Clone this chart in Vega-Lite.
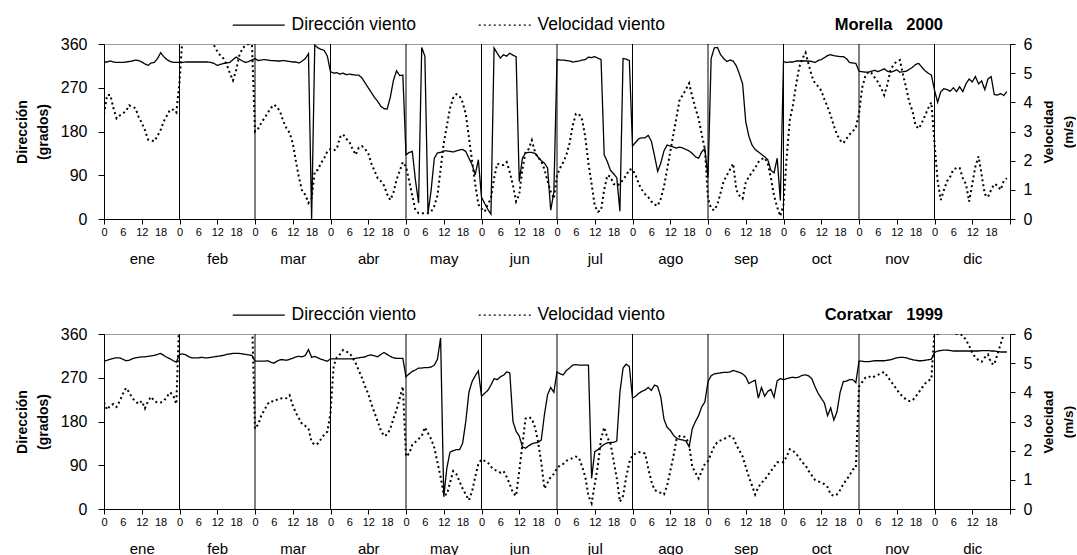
{
"$schema": "https://vega.github.io/schema/vega-lite/v6.json",
"background": "white",
"padding": {"left": 14, "top": 15, "right": 0, "bottom": 0},
"spacing": 38,
"config": {
  "font": "Liberation Sans",
  "view": {"stroke": "#9a9a9a", "strokeWidth": 1},
  "axis": {"grid": false, "domainColor": "black", "tickColor": "black", "labelColor": "black", "titleColor": "black", "labelFont": "Liberation Sans", "titleFont": "Liberation Sans", "domainWidth": 1, "tickWidth": 1}
},
"datasets": {
"meses": [
{"mes":"ene","s":0},{"mes":"feb","s":24},{"mes":"mar","s":48},{"mes":"abr","s":72},{"mes":"may","s":96},{"mes":"jun","s":120},
{"mes":"jul","s":144},{"mes":"ago","s":168},{"mes":"sep","s":192},{"mes":"oct","s":216},{"mes":"nov","s":240},{"mes":"dic","s":264}
],
"morella": [
{"i":0,"d":323,"v":3.6},{"i":1,"d":323,"v":4.25},{"i":2,"d":325,"v":4.25},{"i":3,"d":323,"v":3.8},{"i":4,"d":322,"v":3.45},{"i":5,"d":322,"v":3.55},
{"i":6,"d":322,"v":3.62},{"i":7,"d":323,"v":3.7},{"i":8,"d":324,"v":3.9},{"i":9,"d":325,"v":3.85},{"i":10,"d":327,"v":3.8},{"i":11,"d":326,"v":3.5},
{"i":12,"d":323,"v":3.3},{"i":13,"d":319,"v":3.05},{"i":14,"d":316,"v":2.72},{"i":15,"d":321,"v":2.7},{"i":16,"d":322,"v":2.66},{"i":17,"d":330,"v":2.85},
{"i":18,"d":342,"v":3.05},{"i":19,"d":334,"v":3.35},{"i":20,"d":328,"v":3.55},{"i":21,"d":324,"v":3.75},{"i":22,"d":322,"v":3.75},{"i":23,"d":322,"v":3.65},
{"i":24,"d":322,"v":4.7},{"i":25,"d":322,"v":6.3},{"i":26,"d":323,"v":6.5},{"i":27,"d":323,"v":6.6},{"i":28,"d":323,"v":6.6},{"i":29,"d":323,"v":6.6},
{"i":30,"d":323,"v":6.6},{"i":31,"d":323,"v":6.6},{"i":32,"d":323,"v":6.5},{"i":33,"d":323,"v":6.4},{"i":34,"d":322,"v":6.3},{"i":35,"d":320,"v":5.95},
{"i":36,"d":316,"v":5.75},{"i":37,"d":318,"v":5.6},{"i":38,"d":320,"v":5.5},{"i":39,"d":321,"v":5.3},{"i":40,"d":322,"v":5.0},{"i":41,"d":328,"v":4.75},
{"i":42,"d":333,"v":5.1},{"i":43,"d":329,"v":5.6},{"i":44,"d":325,"v":5.85},{"i":45,"d":322,"v":5.95},{"i":46,"d":324,"v":6.0},{"i":47,"d":327,"v":6.1},
{"i":48,"d":330,"v":3.0},{"i":49,"d":326,"v":3.1},{"i":50,"d":327,"v":3.29},{"i":51,"d":328,"v":3.46},{"i":52,"d":327,"v":3.63},{"i":53,"d":326,"v":3.8},
{"i":54,"d":326,"v":3.92},{"i":55,"d":325,"v":3.85},{"i":56,"d":325,"v":3.67},{"i":57,"d":326,"v":3.35},{"i":58,"d":325,"v":3.12},{"i":59,"d":324,"v":2.95},
{"i":60,"d":323,"v":2.6},{"i":61,"d":323,"v":1.98},{"i":62,"d":321,"v":1.41},{"i":63,"d":325,"v":0.95},{"i":64,"d":330,"v":0.83},{"i":65,"d":340,"v":0.55},
{"i":66,"d":0,"v":0.72},{"i":67,"d":358,"v":1.63},{"i":68,"d":352,"v":1.69},{"i":69,"d":349,"v":1.92},{"i":70,"d":347,"v":2.09},{"i":71,"d":335,"v":2.32},
{"i":72,"d":303,"v":2.4},{"i":73,"d":300,"v":2.35},{"i":74,"d":301,"v":2.4},{"i":75,"d":298,"v":2.8},{"i":76,"d":300,"v":2.9},{"i":77,"d":297,"v":2.75},
{"i":78,"d":298,"v":2.65},{"i":79,"d":297,"v":2.4},{"i":80,"d":296,"v":2.2},{"i":81,"d":296,"v":2.45},{"i":82,"d":290,"v":2.5},{"i":83,"d":280,"v":2.4},
{"i":84,"d":270,"v":2.25},{"i":85,"d":260,"v":1.9},{"i":86,"d":250,"v":1.65},{"i":87,"d":242,"v":1.4},{"i":88,"d":232,"v":1.3},{"i":89,"d":227,"v":1.15},
{"i":90,"d":226,"v":0.85},{"i":91,"d":250,"v":0.65},{"i":92,"d":285,"v":0.9},{"i":93,"d":305,"v":1.35},{"i":94,"d":295,"v":1.65},{"i":95,"d":296,"v":1.95},
{"i":96,"d":132,"v":1.8},{"i":97,"d":137,"v":1.3},{"i":98,"d":139,"v":0.8},{"i":99,"d":80,"v":0.3},{"i":100,"d":33,"v":0.2},{"i":101,"d":353,"v":0.2},
{"i":102,"d":335,"v":0.2},{"i":103,"d":12,"v":0.2},{"i":104,"d":60,"v":0.25},{"i":105,"d":125,"v":0.45},{"i":106,"d":136,"v":0.8},{"i":107,"d":137,"v":1.7},
{"i":108,"d":140,"v":2.6},{"i":109,"d":140,"v":3.2},{"i":110,"d":139,"v":3.8},{"i":111,"d":138,"v":4.15},{"i":112,"d":140,"v":4.28},{"i":113,"d":142,"v":4.22},
{"i":114,"d":143,"v":4.0},{"i":115,"d":139,"v":3.6},{"i":116,"d":125,"v":2.8},{"i":117,"d":112,"v":2.0},{"i":118,"d":91,"v":1.2},{"i":119,"d":122,"v":0.5},
{"i":120,"d":45,"v":0.35},{"i":121,"d":32,"v":0.25},{"i":122,"d":20,"v":0.5},{"i":123,"d":10,"v":0.7},{"i":124,"d":352,"v":1.4},{"i":125,"d":341,"v":1.9},
{"i":126,"d":331,"v":1.85},{"i":127,"d":338,"v":1.85},{"i":128,"d":335,"v":1.95},{"i":129,"d":341,"v":1.6},{"i":130,"d":337,"v":1.15},{"i":131,"d":334,"v":0.6},
{"i":132,"d":77,"v":0.85},{"i":133,"d":125,"v":1.7},{"i":134,"d":136,"v":2.3},{"i":135,"d":137,"v":2.4},{"i":136,"d":137,"v":2.7},{"i":137,"d":135,"v":2.3},
{"i":138,"d":127,"v":2.1},{"i":139,"d":120,"v":2.0},{"i":140,"d":115,"v":1.7},{"i":141,"d":105,"v":1.3},{"i":142,"d":18,"v":0.95},{"i":143,"d":55,"v":0.7},
{"i":144,"d":328,"v":1.5},{"i":145,"d":327,"v":1.75},{"i":146,"d":327,"v":1.95},{"i":147,"d":326,"v":2.2},{"i":148,"d":325,"v":2.6},{"i":149,"d":323,"v":3.2},
{"i":150,"d":324,"v":3.6},{"i":151,"d":325,"v":3.6},{"i":152,"d":327,"v":3.4},{"i":153,"d":328,"v":2.8},{"i":154,"d":333,"v":1.9},{"i":155,"d":332,"v":1.2},
{"i":156,"d":334,"v":0.45},{"i":157,"d":331,"v":0.25},{"i":158,"d":328,"v":0.3},{"i":159,"d":132,"v":1.0},{"i":160,"d":118,"v":1.5},{"i":161,"d":100,"v":1.45},
{"i":162,"d":93,"v":1.2},{"i":163,"d":85,"v":1.15},{"i":164,"d":16,"v":1.2},{"i":165,"d":330,"v":1.35},{"i":166,"d":329,"v":1.5},{"i":167,"d":326,"v":1.7},
{"i":168,"d":150,"v":1.7},{"i":169,"d":158,"v":1.5},{"i":170,"d":165,"v":1.2},{"i":171,"d":167,"v":1.0},{"i":172,"d":167,"v":0.85},{"i":173,"d":172,"v":0.75},
{"i":174,"d":160,"v":0.6},{"i":175,"d":130,"v":0.5},{"i":176,"d":98,"v":0.45},{"i":177,"d":115,"v":0.7},{"i":178,"d":140,"v":1.1},{"i":179,"d":152,"v":1.7},
{"i":180,"d":150,"v":2.3},{"i":181,"d":148,"v":2.9},{"i":182,"d":146,"v":3.5},{"i":183,"d":148,"v":4.1},{"i":184,"d":146,"v":4.25},{"i":185,"d":143,"v":4.45},
{"i":186,"d":140,"v":4.65},{"i":187,"d":135,"v":4.2},{"i":188,"d":128,"v":3.8},{"i":189,"d":125,"v":3.45},{"i":190,"d":138,"v":2.9},{"i":191,"d":145,"v":2.4},
{"i":192,"d":85,"v":0.7},{"i":193,"d":330,"v":0.35},{"i":194,"d":352,"v":0.3},{"i":195,"d":353,"v":0.5},{"i":196,"d":338,"v":0.9},{"i":197,"d":330,"v":1.3},
{"i":198,"d":324,"v":1.5},{"i":199,"d":327,"v":1.7},{"i":200,"d":325,"v":1.9},{"i":201,"d":315,"v":1.0},{"i":202,"d":298,"v":0.8},{"i":203,"d":278,"v":0.7},
{"i":204,"d":200,"v":1.25},{"i":205,"d":170,"v":1.45},{"i":206,"d":152,"v":1.6},{"i":207,"d":143,"v":1.75},{"i":208,"d":138,"v":1.95},{"i":209,"d":133,"v":2.05},
{"i":210,"d":128,"v":2.1},{"i":211,"d":122,"v":1.9},{"i":212,"d":100,"v":1.4},{"i":213,"d":95,"v":0.8},{"i":214,"d":125,"v":0.4},{"i":215,"d":38,"v":0.1},
{"i":216,"d":324,"v":0.5},{"i":217,"d":322,"v":2.1},{"i":218,"d":323,"v":3.4},{"i":219,"d":323,"v":3.9},{"i":220,"d":325,"v":4.6},{"i":221,"d":325,"v":5.2},
{"i":222,"d":325,"v":5.5},{"i":223,"d":325,"v":5.7},{"i":224,"d":325,"v":5.3},{"i":225,"d":324,"v":4.9},{"i":226,"d":322,"v":4.65},{"i":227,"d":326,"v":4.55},
{"i":228,"d":328,"v":4.4},{"i":229,"d":332,"v":4.1},{"i":230,"d":336,"v":3.85},{"i":231,"d":338,"v":3.55},{"i":232,"d":336,"v":3.2},{"i":233,"d":335,"v":2.9},
{"i":234,"d":334,"v":2.7},{"i":235,"d":334,"v":2.6},{"i":236,"d":330,"v":2.75},{"i":237,"d":322,"v":2.9},{"i":238,"d":321,"v":3.0},{"i":239,"d":320,"v":3.15},
{"i":240,"d":304,"v":3.6},{"i":241,"d":303,"v":4.5},{"i":242,"d":302,"v":4.9},{"i":243,"d":302,"v":5.05},{"i":244,"d":304,"v":5.0},{"i":245,"d":306,"v":4.85},
{"i":246,"d":303,"v":4.7},{"i":247,"d":306,"v":4.5},{"i":248,"d":309,"v":4.25},{"i":249,"d":304,"v":4.6},{"i":250,"d":302,"v":5.1},{"i":251,"d":304,"v":5.3},
{"i":252,"d":307,"v":5.4},{"i":253,"d":302,"v":5.45},{"i":254,"d":303,"v":4.95},{"i":255,"d":304,"v":4.5},{"i":256,"d":308,"v":4.0},{"i":257,"d":312,"v":3.7},
{"i":258,"d":318,"v":3.2},{"i":259,"d":320,"v":3.1},{"i":260,"d":312,"v":3.3},{"i":261,"d":305,"v":3.55},{"i":262,"d":300,"v":3.8},{"i":263,"d":296,"v":4.0},
{"i":264,"d":265,"v":2.6},{"i":265,"d":240,"v":1.3},{"i":266,"d":262,"v":0.65},{"i":267,"d":268,"v":1.0},{"i":268,"d":266,"v":1.3},{"i":269,"d":263,"v":1.45},
{"i":270,"d":270,"v":1.7},{"i":271,"d":262,"v":1.75},{"i":272,"d":272,"v":1.75},{"i":273,"d":262,"v":1.4},{"i":274,"d":278,"v":1.2},{"i":275,"d":288,"v":0.6},
{"i":276,"d":282,"v":1.2},{"i":277,"d":293,"v":1.8},{"i":278,"d":278,"v":2.15},{"i":279,"d":284,"v":1.5},{"i":280,"d":266,"v":0.85},{"i":281,"d":288,"v":0.75},
{"i":282,"d":293,"v":1.0},{"i":283,"d":256,"v":1.2},{"i":284,"d":255,"v":1.15},{"i":285,"d":258,"v":1.0},{"i":286,"d":254,"v":1.3},{"i":287,"d":262,"v":1.4}
],
"coratxar": [
{"i":0,"d":304,"v":3.65},{"i":1,"d":306,"v":3.4},{"i":2,"d":308,"v":3.55},{"i":3,"d":310,"v":3.6},{"i":4,"d":311,"v":3.5},{"i":5,"d":311,"v":3.7},
{"i":6,"d":308,"v":3.95},{"i":7,"d":305,"v":4.15},{"i":8,"d":306,"v":4.0},{"i":9,"d":309,"v":3.8},{"i":10,"d":311,"v":3.7},{"i":11,"d":312,"v":3.6},
{"i":12,"d":313,"v":3.7},{"i":13,"d":313,"v":3.45},{"i":14,"d":314,"v":3.7},{"i":15,"d":315,"v":3.85},{"i":16,"d":316,"v":3.7},{"i":17,"d":318,"v":3.65},
{"i":18,"d":320,"v":3.65},{"i":19,"d":316,"v":3.7},{"i":20,"d":312,"v":3.85},{"i":21,"d":309,"v":4.0},{"i":22,"d":305,"v":3.9},{"i":23,"d":302,"v":3.6},
{"i":24,"d":318,"v":6.8},{"i":25,"d":319,"v":6.8},{"i":26,"d":317,"v":6.8},{"i":27,"d":313,"v":6.8},{"i":28,"d":311,"v":6.8},{"i":29,"d":311,"v":6.8},
{"i":30,"d":311,"v":6.8},{"i":31,"d":312,"v":6.8},{"i":32,"d":311,"v":6.8},{"i":33,"d":311,"v":6.8},{"i":34,"d":312,"v":6.8},{"i":35,"d":313,"v":6.8},
{"i":36,"d":314,"v":6.8},{"i":37,"d":315,"v":6.8},{"i":38,"d":316,"v":6.8},{"i":39,"d":318,"v":6.8},{"i":40,"d":319,"v":6.8},{"i":41,"d":320,"v":6.8},
{"i":42,"d":320,"v":6.8},{"i":43,"d":320,"v":6.8},{"i":44,"d":319,"v":6.8},{"i":45,"d":318,"v":6.8},{"i":46,"d":317,"v":6.8},{"i":47,"d":316,"v":6.8},
{"i":48,"d":304,"v":2.75},{"i":49,"d":304,"v":2.9},{"i":50,"d":304,"v":3.2},{"i":51,"d":304,"v":3.4},{"i":52,"d":305,"v":3.6},{"i":53,"d":302,"v":3.7},
{"i":54,"d":300,"v":3.68},{"i":55,"d":304,"v":3.75},{"i":56,"d":307,"v":3.8},{"i":57,"d":307,"v":3.78},{"i":58,"d":306,"v":3.8},{"i":59,"d":308,"v":3.9},
{"i":60,"d":310,"v":3.55},{"i":61,"d":313,"v":3.3},{"i":62,"d":314,"v":3.1},{"i":63,"d":313,"v":2.9},{"i":64,"d":316,"v":2.85},{"i":65,"d":328,"v":2.75},
{"i":66,"d":312,"v":2.3},{"i":67,"d":314,"v":2.2},{"i":68,"d":311,"v":2.25},{"i":69,"d":308,"v":2.4},{"i":70,"d":306,"v":2.55},{"i":71,"d":304,"v":2.65},
{"i":72,"d":309,"v":3.3},{"i":73,"d":309,"v":4.9},{"i":74,"d":309,"v":5.2},{"i":75,"d":309,"v":5.3},{"i":76,"d":309,"v":5.45},{"i":77,"d":309,"v":5.4},
{"i":78,"d":309,"v":5.35},{"i":79,"d":309,"v":5.2},{"i":80,"d":310,"v":5.0},{"i":81,"d":311,"v":4.75},{"i":82,"d":312,"v":4.5},{"i":83,"d":313,"v":4.2},
{"i":84,"d":316,"v":3.95},{"i":85,"d":317,"v":3.6},{"i":86,"d":315,"v":3.3},{"i":87,"d":313,"v":3.0},{"i":88,"d":318,"v":2.7},{"i":89,"d":322,"v":2.5},
{"i":90,"d":318,"v":2.55},{"i":91,"d":314,"v":2.75},{"i":92,"d":311,"v":3.1},{"i":93,"d":310,"v":3.4},{"i":94,"d":310,"v":3.8},{"i":95,"d":310,"v":4.2},
{"i":96,"d":272,"v":1.8},{"i":97,"d":278,"v":1.9},{"i":98,"d":283,"v":2.2},{"i":99,"d":286,"v":2.3},{"i":100,"d":290,"v":2.4},{"i":101,"d":290,"v":2.5},
{"i":102,"d":291,"v":2.8},{"i":103,"d":291,"v":2.6},{"i":104,"d":292,"v":2.4},{"i":105,"d":296,"v":2.1},{"i":106,"d":308,"v":1.6},{"i":107,"d":352,"v":1.1},
{"i":108,"d":25,"v":0.5},{"i":109,"d":85,"v":0.5},{"i":110,"d":117,"v":0.9},{"i":111,"d":120,"v":1.3},{"i":112,"d":122,"v":1.2},{"i":113,"d":122,"v":0.95},
{"i":114,"d":135,"v":0.7},{"i":115,"d":180,"v":0.5},{"i":116,"d":240,"v":0.3},{"i":117,"d":262,"v":0.6},{"i":118,"d":274,"v":1.1},{"i":119,"d":284,"v":1.55},
{"i":120,"d":232,"v":1.7},{"i":121,"d":238,"v":1.65},{"i":122,"d":244,"v":1.6},{"i":123,"d":255,"v":1.45},{"i":124,"d":268,"v":1.35},{"i":125,"d":266,"v":1.3},
{"i":126,"d":272,"v":1.25},{"i":127,"d":275,"v":1.3},{"i":128,"d":282,"v":1.1},{"i":129,"d":280,"v":0.85},{"i":130,"d":180,"v":0.55},{"i":131,"d":160,"v":0.45},
{"i":132,"d":150,"v":1.3},{"i":133,"d":128,"v":2.2},{"i":134,"d":125,"v":3.1},{"i":135,"d":130,"v":3.15},{"i":136,"d":134,"v":3.1},{"i":137,"d":136,"v":2.8},
{"i":138,"d":137,"v":2.3},{"i":139,"d":142,"v":1.6},{"i":140,"d":194,"v":0.7},{"i":141,"d":235,"v":0.9},{"i":142,"d":250,"v":1.1},{"i":143,"d":240,"v":1.2},
{"i":144,"d":282,"v":1.4},{"i":145,"d":278,"v":1.5},{"i":146,"d":276,"v":1.55},{"i":147,"d":285,"v":1.65},{"i":148,"d":290,"v":1.7},{"i":149,"d":296,"v":1.75},
{"i":150,"d":297,"v":1.8},{"i":151,"d":296,"v":1.75},{"i":152,"d":296,"v":1.45},{"i":153,"d":296,"v":1.1},{"i":154,"d":296,"v":0.45},{"i":155,"d":63,"v":0.2},
{"i":156,"d":118,"v":0.85},{"i":157,"d":122,"v":1.5},{"i":158,"d":128,"v":2.4},{"i":159,"d":133,"v":2.8},{"i":160,"d":136,"v":2.45},{"i":161,"d":137,"v":2.25},
{"i":162,"d":137,"v":1.65},{"i":163,"d":140,"v":1.05},{"i":164,"d":240,"v":0.25},{"i":165,"d":290,"v":0.45},{"i":166,"d":298,"v":1.1},{"i":167,"d":293,"v":1.6},
{"i":168,"d":228,"v":1.85},{"i":169,"d":232,"v":1.9},{"i":170,"d":238,"v":1.95},{"i":171,"d":242,"v":1.95},{"i":172,"d":245,"v":1.9},{"i":173,"d":250,"v":1.4},
{"i":174,"d":244,"v":0.95},{"i":175,"d":255,"v":0.65},{"i":176,"d":252,"v":0.6},{"i":177,"d":230,"v":0.55},{"i":178,"d":185,"v":0.5},{"i":179,"d":168,"v":0.8},
{"i":180,"d":162,"v":1.3},{"i":181,"d":152,"v":1.8},{"i":182,"d":146,"v":2.4},{"i":183,"d":143,"v":2.5},{"i":184,"d":142,"v":2.5},{"i":185,"d":140,"v":2.45},
{"i":186,"d":128,"v":2.2},{"i":187,"d":165,"v":1.45},{"i":188,"d":180,"v":1.25},{"i":189,"d":192,"v":1.05},{"i":190,"d":210,"v":1.3},{"i":191,"d":220,"v":1.55},
{"i":192,"d":262,"v":1.65},{"i":193,"d":274,"v":1.9},{"i":194,"d":278,"v":2.15},{"i":195,"d":279,"v":2.3},{"i":196,"d":280,"v":2.35},{"i":197,"d":281,"v":2.4},
{"i":198,"d":281,"v":2.45},{"i":199,"d":282,"v":2.5},{"i":200,"d":285,"v":2.45},{"i":201,"d":283,"v":2.2},{"i":202,"d":281,"v":2.0},{"i":203,"d":278,"v":1.8},
{"i":204,"d":272,"v":1.45},{"i":205,"d":258,"v":1.1},{"i":206,"d":262,"v":0.8},{"i":207,"d":265,"v":0.5},{"i":208,"d":228,"v":0.75},{"i":209,"d":250,"v":0.9},
{"i":210,"d":232,"v":1.0},{"i":211,"d":242,"v":1.15},{"i":212,"d":246,"v":1.3},{"i":213,"d":230,"v":1.45},{"i":214,"d":264,"v":1.6},{"i":215,"d":268,"v":1.6},
{"i":216,"d":266,"v":1.6},{"i":217,"d":268,"v":1.8},{"i":218,"d":270,"v":2.05},{"i":219,"d":271,"v":2.0},{"i":220,"d":270,"v":1.9},{"i":221,"d":272,"v":1.75},
{"i":222,"d":275,"v":1.6},{"i":223,"d":276,"v":1.5},{"i":224,"d":274,"v":1.3},{"i":225,"d":268,"v":1.15},{"i":226,"d":252,"v":1.0},{"i":227,"d":238,"v":0.95},
{"i":228,"d":228,"v":0.9},{"i":229,"d":218,"v":0.85},{"i":230,"d":192,"v":0.75},{"i":231,"d":208,"v":0.5},{"i":232,"d":183,"v":0.45},{"i":233,"d":200,"v":0.5},
{"i":234,"d":240,"v":0.65},{"i":235,"d":262,"v":0.85},{"i":236,"d":263,"v":1.0},{"i":237,"d":266,"v":1.15},{"i":238,"d":266,"v":1.35},{"i":239,"d":260,"v":1.4},
{"i":240,"d":304,"v":4.2},{"i":241,"d":304,"v":4.35},{"i":242,"d":303,"v":4.5},{"i":243,"d":303,"v":4.55},{"i":244,"d":304,"v":4.5},{"i":245,"d":305,"v":4.55},
{"i":246,"d":305,"v":4.6},{"i":247,"d":305,"v":4.65},{"i":248,"d":305,"v":4.7},{"i":249,"d":306,"v":4.55},{"i":250,"d":307,"v":4.4},{"i":251,"d":309,"v":4.25},
{"i":252,"d":311,"v":4.1},{"i":253,"d":312,"v":3.95},{"i":254,"d":312,"v":3.85},{"i":255,"d":311,"v":3.75},{"i":256,"d":309,"v":3.7},{"i":257,"d":307,"v":3.72},
{"i":258,"d":306,"v":3.85},{"i":259,"d":305,"v":4.0},{"i":260,"d":305,"v":4.15},{"i":261,"d":306,"v":4.3},{"i":262,"d":307,"v":4.4},{"i":263,"d":308,"v":4.45},
{"i":264,"d":322,"v":6.1},{"i":265,"d":325,"v":6.0},{"i":266,"d":326,"v":6.05},{"i":267,"d":327,"v":6.1},{"i":268,"d":327,"v":6.1},{"i":269,"d":326,"v":6.1},
{"i":270,"d":325,"v":6.05},{"i":271,"d":325,"v":6.0},{"i":272,"d":325,"v":6.0},{"i":273,"d":325,"v":5.95},{"i":274,"d":325,"v":5.8},{"i":275,"d":325,"v":5.6},
{"i":276,"d":325,"v":5.35},{"i":277,"d":325,"v":5.2},{"i":278,"d":325,"v":5.1},{"i":279,"d":326,"v":5.05},{"i":280,"d":326,"v":5.2},{"i":281,"d":326,"v":5.3},
{"i":282,"d":325,"v":5.0},{"i":283,"d":325,"v":4.95},{"i":284,"d":324,"v":5.3},{"i":285,"d":323,"v":5.65},{"i":286,"d":323,"v":6.0},{"i":287,"d":323,"v":6.2}
]
},
"vconcat": [
{
  "width": 906, "height": 175,
  "title": {"text": "Morella\u00a0\u00a0 2000", "anchor": "end", "frame": "group", "dx": -67, "offset": -17.5, "fontSize": 16.5, "fontWeight": "bold", "font": "Liberation Sans", "color": "black"},
  "layer": [
    {"data": {"name": "meses"}, "transform": [{"filter": "datum.s > 0"}],
     "mark": {"type": "rule", "color": "black", "strokeWidth": 1},
     "encoding": {"x": {"field": "s", "type": "quantitative", "scale": {"domain": [0, 288], "nice": false, "zero": false},
        "axis": {"orient": "bottom", "title": null, "values": [12,36,60,84,108,132,156,180,204,228,252,276], "labelExpr": "['ene','feb','mar','abr','may','jun','jul','ago','sep','oct','nov','dic'][floor(datum.value/24)]", "domain": false, "ticks": false, "labelPadding": 32, "labelFontSize": 15, "labelOverlap": false, "labelFlush": false}}}},
    {"data": {"name": "morella"},
     "mark": {"type": "line", "color": "black", "strokeWidth": 1.3, "clip": true},
     "encoding": {
       "x": {"field": "i", "type": "quantitative", "scale": {"domain": [0, 288], "nice": false, "zero": false},
         "axis": {"orient": "bottom", "title": null, "values": [0,6,12,18,24,30,36,42,48,54,60,66,72,78,84,90,96,102,108,114,120,126,132,138,144,150,156,162,168,174,180,186,192,198,204,210,216,222,228,234,240,246,252,258,264,270,276,282,288], "labelExpr": "datum.value >= 288 ? '' : '' + (datum.value % 24)", "labelFontSize": 11, "tickSize": 5, "labelPadding": 2, "labelOverlap": false, "labelFlush": false, "tickOpacity": {"condition": {"test": "datum.value % 12 === 0", "value": 1}, "value": 0}}},
       "y": {"field": "d", "type": "quantitative", "scale": {"domain": [0, 360], "nice": false},
         "axis": {"orient": "left", "values": [0,90,180,270,360], "labelFontSize": 16, "tickSize": 6, "labelPadding": 11, "title": ["Dirección", "(grados)"], "titleFontSize": 14, "titleFontWeight": "bold", "titleLineHeight": 21, "titlePadding": 10}},
       "strokeDash": {"datum": "Dirección viento", "type": "nominal",
         "scale": {"domain": ["Dirección viento", "Velocidad viento"], "range": [[1, 0], [2, 3]]},
         "legend": {"orient": "none", "legendX": 126, "legendY": -28, "direction": "horizontal", "title": null, "symbolType": "M-5,0H5", "symbolSize": 108, "symbolOffset": 20, "labelOffset": 24, "labelFontSize": 17.5, "labelFont": "Liberation Sans", "labelColor": "black", "columnPadding": 60, "symbolStrokeColor": "black", "symbolFillColor": "transparent", "symbolStrokeWidth": 1.3,
           "encode": {"symbols": {"update": {"strokeDash": [{"test": "datum.value === 'Velocidad viento'", "value": [1, 6.5]}, {"value": [1, 0]}]}}}}}
     }},
    {"data": {"name": "morella"},
     "mark": {"type": "line", "color": "black", "strokeWidth": 2, "clip": true},
     "encoding": {
       "x": {"field": "i", "type": "quantitative", "scale": {"domain": [0, 288], "nice": false, "zero": false}, "axis": null},
       "y": {"field": "v", "type": "quantitative", "scale": {"domain": [0, 6], "nice": false},
         "axis": {"orient": "right", "values": [0,1,2,3,4,5,6], "labelFontSize": 16, "tickSize": 5, "labelPadding": 8, "title": ["Velocidad", "(m/s)"], "titleFontSize": 13.5, "titleFontWeight": "bold", "titleLineHeight": 20, "titleAngle": 270, "titleBaseline": "top", "titlePadding": -10}},
       "strokeDash": {"datum": "Velocidad viento", "type": "nominal"}
     }}
  ],
  "resolve": {"scale": {"x": "independent", "y": "independent"}}
},
{
  "width": 906, "height": 175,
  "title": {"text": "Coratxar\u00a0\u00a0 1999", "anchor": "end", "frame": "group", "dx": -67, "offset": -17.5, "fontSize": 16.5, "fontWeight": "bold", "font": "Liberation Sans", "color": "black"},
  "layer": [
    {"data": {"name": "meses"}, "transform": [{"filter": "datum.s > 0"}],
     "mark": {"type": "rule", "color": "black", "strokeWidth": 1},
     "encoding": {"x": {"field": "s", "type": "quantitative", "scale": {"domain": [0, 288], "nice": false, "zero": false},
        "axis": {"orient": "bottom", "title": null, "values": [12,36,60,84,108,132,156,180,204,228,252,276], "labelExpr": "['ene','feb','mar','abr','may','jun','jul','ago','sep','oct','nov','dic'][floor(datum.value/24)]", "domain": false, "ticks": false, "labelPadding": 32, "labelFontSize": 15, "labelOverlap": false, "labelFlush": false}}}},
    {"data": {"name": "coratxar"},
     "mark": {"type": "line", "color": "black", "strokeWidth": 1.3, "clip": true},
     "encoding": {
       "x": {"field": "i", "type": "quantitative", "scale": {"domain": [0, 288], "nice": false, "zero": false},
         "axis": {"orient": "bottom", "title": null, "values": [0,6,12,18,24,30,36,42,48,54,60,66,72,78,84,90,96,102,108,114,120,126,132,138,144,150,156,162,168,174,180,186,192,198,204,210,216,222,228,234,240,246,252,258,264,270,276,282,288], "labelExpr": "datum.value >= 288 ? '' : '' + (datum.value % 24)", "labelFontSize": 11, "tickSize": 5, "labelPadding": 2, "labelOverlap": false, "labelFlush": false, "tickOpacity": {"condition": {"test": "datum.value % 12 === 0", "value": 1}, "value": 0}}},
       "y": {"field": "d", "type": "quantitative", "scale": {"domain": [0, 360], "nice": false},
         "axis": {"orient": "left", "values": [0,90,180,270,360], "labelFontSize": 16, "tickSize": 6, "labelPadding": 11, "title": ["Dirección", "(grados)"], "titleFontSize": 14, "titleFontWeight": "bold", "titleLineHeight": 21, "titlePadding": 10}},
       "strokeDash": {"datum": "Dirección viento", "type": "nominal",
         "scale": {"domain": ["Dirección viento", "Velocidad viento"], "range": [[1, 0], [2, 3]]},
         "legend": {"orient": "none", "legendX": 126, "legendY": -28, "direction": "horizontal", "title": null, "symbolType": "M-5,0H5", "symbolSize": 108, "symbolOffset": 20, "labelOffset": 24, "labelFontSize": 17.5, "labelFont": "Liberation Sans", "labelColor": "black", "columnPadding": 60, "symbolStrokeColor": "black", "symbolFillColor": "transparent", "symbolStrokeWidth": 1.3,
           "encode": {"symbols": {"update": {"strokeDash": [{"test": "datum.value === 'Velocidad viento'", "value": [1, 6.5]}, {"value": [1, 0]}]}}}}}
     }},
    {"data": {"name": "coratxar"},
     "mark": {"type": "line", "color": "black", "strokeWidth": 2, "clip": true},
     "encoding": {
       "x": {"field": "i", "type": "quantitative", "scale": {"domain": [0, 288], "nice": false, "zero": false}, "axis": null},
       "y": {"field": "v", "type": "quantitative", "scale": {"domain": [0, 6], "nice": false},
         "axis": {"orient": "right", "values": [0,1,2,3,4,5,6], "labelFontSize": 16, "tickSize": 5, "labelPadding": 8, "title": ["Velocidad", "(m/s)"], "titleFontSize": 13.5, "titleFontWeight": "bold", "titleLineHeight": 20, "titleAngle": 270, "titleBaseline": "top", "titlePadding": -10}},
       "strokeDash": {"datum": "Velocidad viento", "type": "nominal"}
     }}
  ],
  "resolve": {"scale": {"x": "independent", "y": "independent"}}
}
],
"resolve": {"scale": {"strokeDash": "independent"}, "legend": {"strokeDash": "independent"}}
}
